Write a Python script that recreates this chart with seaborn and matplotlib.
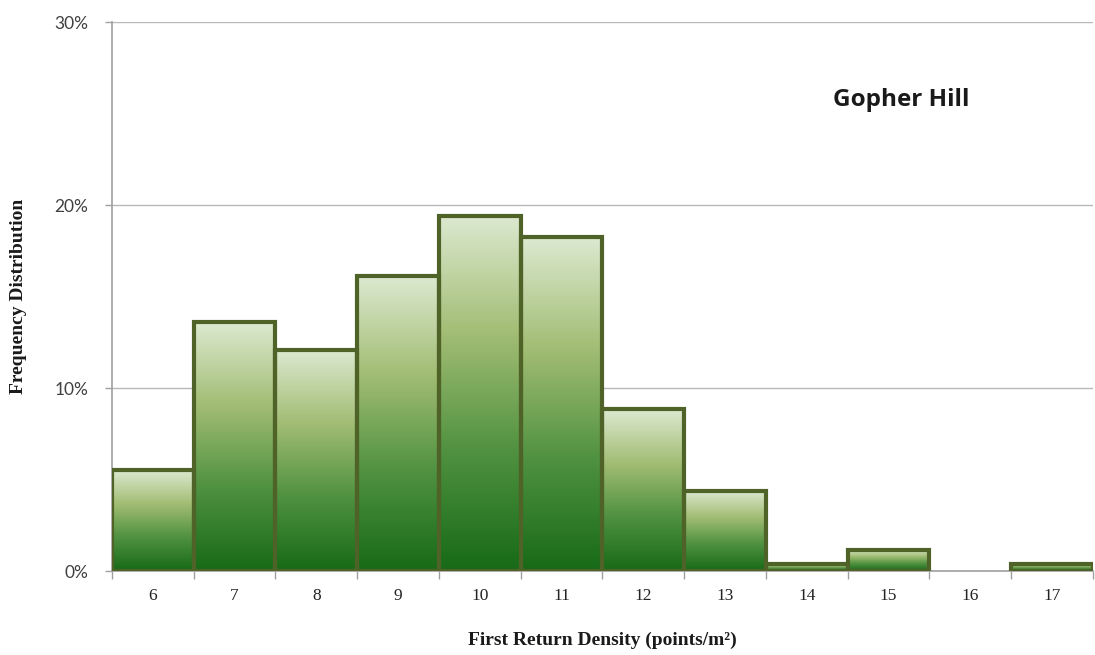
import matplotlib
matplotlib.use("Agg")
import matplotlib.pyplot as plt
import numpy as np
import pandas as pd
import seaborn as sns
from matplotlib.colors import LinearSegmentedColormap
from matplotlib.ticker import FixedLocator

# data
densities = [6, 7, 8, 9, 10, 11, 12, 13, 14, 15, 16, 17]
frequency = [5.5, 13.6, 12.1, 16.1, 19.4, 18.25, 8.85, 4.4, 0.4, 1.15, 0.0, 0.4]
y_ticks = [0, 10, 20, 30]
y_tick_labels = ["0%", "10%", "20%", "30%"]
site_name = "Gopher Hill"

df = pd.DataFrame({"density": [str(d) for d in densities], "freq": frequency})

sns.set_style("white")
plt.rcParams['font.family'] = ['Liberation Serif', 'DejaVu Serif']

fig, ax = plt.subplots(figsize=(10.95, 6.55), dpi=100)
fig.subplots_adjust(left=0.1023, right=0.998, top=0.9664, bottom=0.1282)

sns.barplot(data=df, x="density", y="freq", ax=ax, width=1.0,
            facecolor="none", edgecolor="#4f6228", linewidth=3, zorder=3)

# vertical gradient for each bar
green_cmap = LinearSegmentedColormap.from_list(
    "bar_green", ["#176a17", "#4f9140", "#a2bd74", "#dce9d0"])
grad = np.linspace(0, 1, 256).reshape(-1, 1)
for patch in ax.patches:
    h = patch.get_height()
    if h <= 0:
        patch.set_visible(False)
        continue
    x0 = patch.get_x()
    x1 = x0 + patch.get_width()
    im = ax.imshow(grad, cmap=green_cmap, origin="lower", aspect="auto",
                   extent=[x0, x1, 0, h], zorder=2, interpolation="bilinear")
    im.set_clip_path(patch)

ax.set_xlim(-0.5, len(densities) - 0.5)
ax.set_ylim(0, 30)
ax.set_aspect("auto")

ax.set_yticks(y_ticks)
ax.set_yticklabels(y_tick_labels, fontfamily="Lato", color="#404040", fontsize=12.5)
ax.yaxis.grid(True, color="#b8b8b8", linewidth=1)
ax.set_axisbelow(True)

# ticks at bin edges, labels centred
ax.xaxis.set_minor_locator(FixedLocator(np.arange(-0.5, len(densities), 1.0)))
ax.tick_params(axis="x", which="major", length=0, labelsize=12.5, pad=12, colors="#222222")
ax.tick_params(axis="x", which="minor", length=6, width=1, color="#a0a0a0", direction="out")
ax.tick_params(axis="y", which="major", length=5, width=1, color="#a0a0a0", direction="out", pad=12)
ax.tick_params(bottom=True, left=True, which="both")

for side in ["top", "right"]:
    ax.spines[side].set_visible(False)
for side in ["left", "bottom"]:
    ax.spines[side].set_color("#a0a0a0")
    ax.spines[side].set_linewidth(1.2)

ax.set_xlabel("First Return Density (points/m²)", fontsize=14, fontweight="bold",
              color="#1a1a1a", labelpad=20)
ax.set_ylabel("Frequency Distribution", fontsize=14, fontweight="bold",
              color="#1a1a1a", labelpad=20)

ax.text(0.805, 0.858, site_name, transform=ax.transAxes, fontsize=17.5,
        fontweight="bold", fontfamily="Open Sans", color="#1a1a1a",
        ha="center", va="center")

plt.savefig("out.png", dpi=100)
plt.close()
